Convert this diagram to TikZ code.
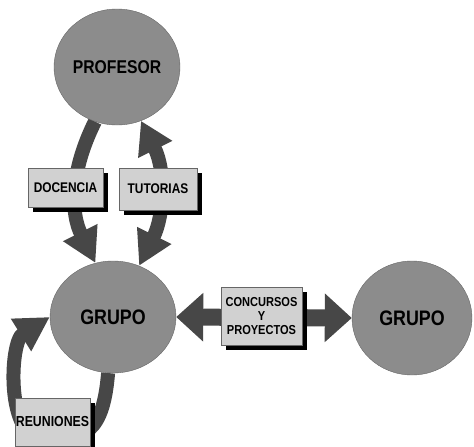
\documentclass[tikz,border=0pt]{standalone}
\usepackage{fontspec}
\newfontfamily\lblfont{Liberation Sans}[FakeStretch=0.85]
\usetikzlibrary{positioning}
\usetikzlibrary{shapes.geometric}
\usetikzlibrary{arrows.meta}
\usetikzlibrary{shadows}
\usetikzlibrary{backgrounds}

\begin{document}
\begin{tikzpicture}[x=1pt, y=-1pt,
  circ/.style={ellipse, draw=black!60, fill=black!45, inner sep=0pt, font=\lblfont\bfseries\fontsize{21}{22}\selectfont},
  box/.style={draw=black!60, fill=black!18, align=center, inner sep=0pt, font=\lblfont\bfseries\fontsize{14}{15}\selectfont,
    drop shadow={fill=black, opacity=1, shadow xshift=5pt, shadow yshift=-5pt}},
  arrow/.style={draw=black!72, line width=14pt, -{Triangle[length=34pt, width=36pt]}},
  dblarrow/.style={draw=black!72, line width=14pt, {Triangle[length=32pt, width=36pt]}-{Triangle[length=34pt, width=36pt]}},
  hdblarrow/.style={draw=black!72, line width=17pt, {Triangle[length=27pt, width=47pt]}-{Triangle[length=27pt, width=47pt]}}
]
\useasboundingbox (0,0) rectangle (474,447);
\clip (0,0) rectangle (474,447);

% Nodes
\node[circ, minimum width=126pt, minimum height=116pt, font=\lblfont\bfseries\fontsize{18.5}{20}\selectfont] (prof) at (117,67) {PROFESOR};
\node[circ, minimum width=126pt, minimum height=112pt] (grupo) at (113,317) {GRUPO};
\node[circ, minimum width=120pt, minimum height=114pt] (grupo2) at (412,318) {GRUPO};

\node[box, minimum width=75pt, minimum height=39pt] (docencia) at (65.5,187.5) {DOCENCIA};
\node[box, minimum width=78pt, minimum height=42pt] (tutorias) at (158,189) {TUTORIAS};
\node[box, minimum width=81pt, minimum height=58pt, font=\lblfont\bfseries\fontsize{13}{14}\selectfont] (concursos) at (261.5,316) {CONCURSOS\\Y\\PROYECTOS};
\node[box, minimum width=75pt, minimum height=48pt, font=\lblfont\bfseries\fontsize{14.5}{15}\selectfont] (reuniones) at (52.5,422) {REUNIONES};

\coordinate (loopbot) at (45,440);

% Edges
\begin{pgfonlayer}{background}
\draw[arrow] (prof.248) .. controls +(-25,50) and +(-25,-50) .. (grupo.108);
\draw[dblarrow] (prof.294) .. controls +(25,50) and +(25,-50) .. (grupo.63);
\draw[hdblarrow] (grupo.east) -- (grupo2.west);
\draw[draw=black!72, line width=14pt] (grupo.265) .. controls +(-5,60) and +(40,0) .. (loopbot);
\draw[arrow] (loopbot) .. controls +(-40,0) and +(-40,25) .. (grupo.west);
\end{pgfonlayer}

\end{tikzpicture}
\end{document}
